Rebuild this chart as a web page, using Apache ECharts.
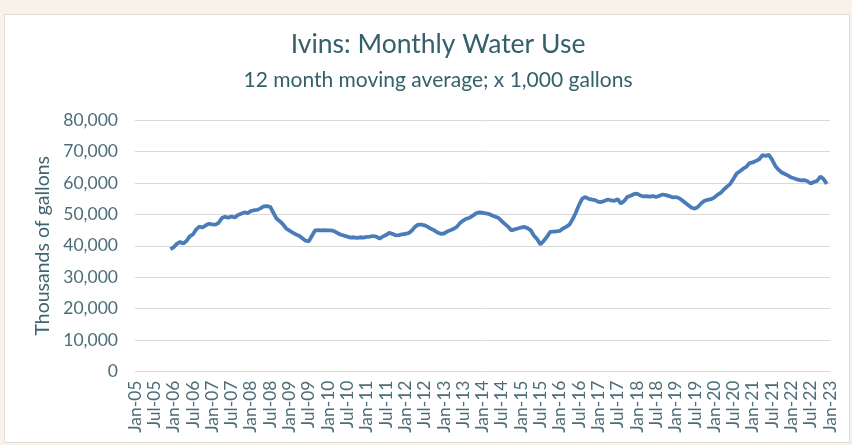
<!DOCTYPE html>
<html>
<head>
<meta charset="utf-8">
<script src="https://cdn.jsdelivr.net/npm/echarts@6/dist/echarts.min.js"></script>
<style>
  html, body { margin: 0; padding: 0; background: #f9f2ea; }
  #card { position: absolute; left: 4px; top: 14px; width: 844px; height: 427px; background: #fff; border: 1px solid #e2ddd6; }
  #chart { position: absolute; left: 0; top: 0; width: 852px; height: 445px; }
</style>
</head>
<body>
<div id="card"></div>
<div id="chart"></div>
<script>
  // axis runs Jan-05 .. Jan-23, monthly
  var years = [2005, 2006, 2007, 2008, 2009, 2010, 2011, 2012, 2013, 2014, 2015, 2016, 2017, 2018, 2019, 2020, 2021, 2022, 2023];
  var monthNames = ['Jan', 'Feb', 'Mar', 'Apr', 'May', 'Jun', 'Jul', 'Aug', 'Sep', 'Oct', 'Nov', 'Dec'];
  var yTicks = [0, 10000, 20000, 30000, 40000, 50000, 60000, 70000, 80000];

  // first value is Dec-05
  var firstMonth = 'Dec-05';
  var waterUse = [
    38900,
    39500, 40600, 41200, 40700, 41500, 43000, 43600, 45200, 46100, 45800, 46500, 47000,
    46800, 46700, 47300, 48800, 49200, 48900, 49300, 49000, 49800, 50200, 50600, 50400,
    51000, 51300, 51400, 51900, 52500, 52600, 52400, 50500, 48600, 47800, 46800, 45500,
    44800, 44200, 43600, 43200, 42400, 41600, 41400, 43200, 44900, 45000, 44900, 45000,
    44900, 44900, 44600, 44000, 43500, 43200, 42900, 42600, 42700, 42500, 42700, 42600,
    42800, 42900, 43100, 42900, 42300, 42900, 43400, 44100, 43800, 43300, 43400, 43600,
    43800, 44000, 44800, 46000, 46700, 46700, 46500, 46000, 45400, 44900, 44200, 43800,
    43900, 44500, 44900, 45400, 46000, 47200, 48000, 48600, 48900, 49600, 50300, 50600,
    50500, 50300, 50100, 49600, 49200, 48800, 47800, 46900, 46000, 44900, 45200, 45500,
    45800, 46000, 45600, 44900, 43200, 42100, 40400, 41500, 42800, 44400, 44500, 44600,
    44700, 45500, 46000, 46700, 48400, 50500, 53000, 55000, 55500, 54900, 54700, 54500,
    54000, 53900, 54300, 54700, 54400, 54300, 54800, 53400, 54200, 55500, 55900, 56400,
    56600, 56000, 55700, 55800, 55600, 55800, 55500, 55900, 56300, 56100, 55800, 55400,
    55500, 55200, 54500, 53700, 52900, 52100, 51800, 52400, 53500, 54300, 54600, 54800,
    55300, 56200, 56800, 57900, 58800, 59700, 61300, 63000, 63700, 64500, 65100, 66300,
    66500, 67000, 67500, 68800, 68600, 68900, 67400, 65400, 64200, 63300, 62800, 62300,
    61700, 61400, 61000, 60800, 60900, 60500, 59800, 60300, 60600, 62000, 61200, 59700
  ];

  var categories = [];
  years.forEach(function (y) {
    monthNames.forEach(function (m) {
      categories.push(m + '-' + String(y).slice(2));
    });
  });
  categories = categories.slice(0, categories.indexOf('Jan-23') + 1);

  var startIdx = categories.indexOf(firstMonth);
  var seriesData = categories.map(function (c, i) {
    var v = waterUse[i - startIdx];
    return (i >= startIdx && v !== undefined) ? v : null;
  });

  var chart = echarts.init(document.getElementById('chart'));
  chart.setOption({
    backgroundColor: 'transparent',
    animation: false,
    textStyle: { fontFamily: 'Lato' },
    title: {
      text: 'Ivins: Monthly Water Use',
      subtext: '12 month moving average; x 1,000 gallons',
      left: 433,
      textAlign: 'center',
      top: 26,
      itemGap: 12,
      textStyle: { color: '#33606b', fontSize: 26.5, fontWeight: 'normal', fontFamily: 'Lato' },
      subtextStyle: { color: '#33606b', fontSize: 21, fontFamily: 'Lato' }
    },
    grid: { left: 135, right: 22, top: 120, bottom: 73.5 },
    xAxis: {
      type: 'category',
      data: categories,
      boundaryGap: false,
      axisTick: { show: false },
      axisLine: { lineStyle: { color: '#d9d9d9', width: 1 } },
      axisLabel: {
        interval: 5,
        rotate: 90,
        margin: 9,
        color: '#4d6e78',
        fontSize: 17.5,
        fontFamily: 'Lato'
      },
      splitLine: { show: false }
    },
    yAxis: {
      type: 'value',
      min: yTicks[0],
      max: yTicks[yTicks.length - 1],
      interval: yTicks[1] - yTicks[0],
      name: 'Thousands of gallons',
      nameLocation: 'middle',
      nameGap: 79,
      nameTextStyle: { color: '#3d6470', fontSize: 19.5, fontFamily: 'Lato' },
      axisLine: { show: false },
      axisTick: { show: false },
      axisLabel: {
        margin: 17,
        color: '#4d6e78',
        fontSize: 17.5,
        fontFamily: 'Lato',
        formatter: function (v) { return v.toLocaleString('en-US'); }
      },
      splitLine: { lineStyle: { color: '#d9d9d9', width: 1 } }
    },
    series: [{
      type: 'line',
      data: seriesData,
      showSymbol: false,
      connectNulls: false,
      lineStyle: { color: '#4a7cba', width: 3.8 },
      itemStyle: { color: '#4a7cba' }
    }]
  });
</script>
</body>
</html>
